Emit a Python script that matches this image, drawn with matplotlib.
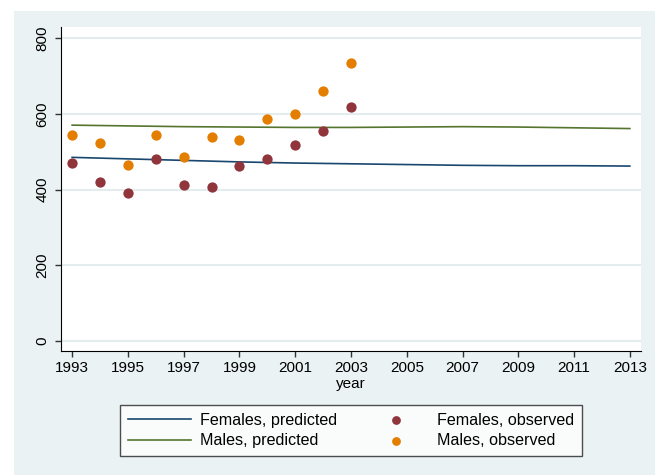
import numpy as np
import matplotlib.pyplot as plt
from matplotlib.patches import Rectangle

plt.rcParams['font.family'] = ['Liberation Sans', 'DejaVu Sans']

# observed series, 1993-2003
obs_years = np.arange(1993, 2004)
females_obs = [469, 421, 392, 480, 411, 408, 463, 480, 518, 554, 618]
males_obs = [544, 524, 466, 544, 487, 539, 532, 587, 600, 659, 733]

# model predictions, 1993-2013
pred_years = np.arange(1993, 2014, 2)
females_pred = [485, 481, 477, 473, 470, 468, 466, 464, 463, 463, 462]
males_pred = [570, 568, 566, 565, 564, 564, 565, 566, 565, 563, 561]

xticks = np.arange(1993, 2014, 2)
yticks = [0, 200, 400, 600, 800]

navy = '#1A476F'
maroon = '#90353B'
green = '#55752F'
orange = '#E37E00'
bg = '#EAF2F3'

W, H = 655, 475
fig = plt.figure(figsize=(W / 100, H / 100), dpi=100)
fig.patch.set_facecolor('white')
fig.patches.append(Rectangle((14 / W, 0), 1, 1 - 11 / H, transform=fig.transFigure,
                             facecolor=bg, edgecolor='none', zorder=-10))

ax = fig.add_axes([61 / W, 124 / H, 580 / W, 324 / H])
ax.set_facecolor('white')

for v in yticks:
    ax.axhline(v, color='#E4ECEE', lw=1.5, zorder=0)

l1, = ax.plot(pred_years, females_pred, color=navy, lw=1.2)
l2, = ax.plot(pred_years, males_pred, color=green, lw=1.2)
s1 = ax.scatter(obs_years, females_obs, color=maroon, s=55, zorder=3, linewidths=0)
s2 = ax.scatter(obs_years, males_obs, color=orange, s=55, zorder=3, linewidths=0)

ax.set_xlim(1992.6, 2013.4)
ax.set_ylim(-26, 829)
ax.set_xticks(xticks)
ax.set_yticks(yticks)
ax.set_yticklabels([str(v) for v in yticks], rotation=90, va='center')
ax.tick_params(direction='out', length=4.5, width=1, color='#333333', labelsize=11)
ax.tick_params(axis='x', pad=3)
ax.tick_params(axis='y', pad=4)
ax.spines['top'].set_visible(False)
ax.spines['right'].set_visible(False)
ax.set_xlabel('year', fontsize=11, labelpad=1)

leg = fig.legend([l1, l2, s1, s2],
                 ['Females, predicted', 'Males, predicted',
                  'Females, observed', 'Males, observed'],
                 ncol=2, loc='center', bbox_to_anchor=(351 / W, 1 - 430.5 / H),
                 fontsize=11.6, frameon=True, fancybox=False, edgecolor='#222222',
                 handlelength=3.9, handletextpad=0.6, columnspacing=1.7,
                 labelspacing=0.35, borderpad=0.45, markerscale=0.85)
leg.get_frame().set_linewidth(1)

fig.savefig('out.png', dpi=100)
